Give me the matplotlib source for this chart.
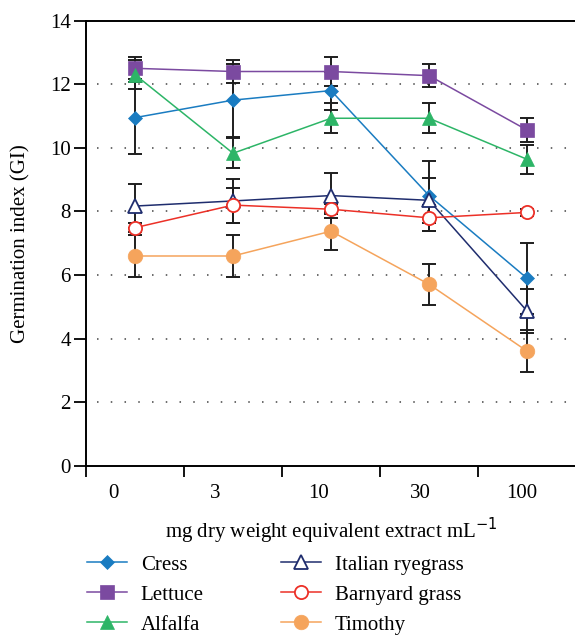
import matplotlib
matplotlib.use("Agg")
import matplotlib.pyplot as plt
from matplotlib.ticker import FixedLocator, NullFormatter

plt.rcParams['font.family'] = ['Liberation Serif', 'DejaVu Serif']

doses = ["0", "3", "10", "30", "100"]

series_names = ["Cress", "Lettuce", "Alfalfa", "Italian ryegrass", "Barnyard grass", "Timothy"]

cress = [10.95, 11.5, 11.8, 8.5, 5.9]
cress_err = [1.13, 1.15, 0.6, 1.1, 1.12]
lettuce = [12.5, 12.4, 12.4, 12.27, 10.56]
lettuce_err = [0.35, 0.35, 0.45, 0.37, 0.38]
alfalfa = [12.3, 9.83, 10.93, 10.93, 9.64]
alfalfa_err = [0.45, 0.47, 0.47, 0.47, 0.45]
ryegrass = [8.17, 8.33, 8.5, 8.35, 4.87]
ryegrass_err = [0.7, 0.68, 0.7, 0.7, 0.7]
barnyard = [7.49, 8.2, 8.07, 7.8, 7.97]
barnyard_err = [0.15, 0.55, 0.15, 0.4, 0.1]
timothy = [6.6, 6.6, 7.38, 5.71, 3.61]
timothy_err = [0.65, 0.65, 0.6, 0.65, 0.65]

values = [cress, lettuce, alfalfa, ryegrass, barnyard, timothy]
errors = [cress_err, lettuce_err, alfalfa_err, ryegrass_err, barnyard_err, timothy_err]

colors = ["#1a7cc1", "#7b4aa0", "#2db567", "#1f2d6e", "#ec3027", "#f5a45c"]
markers = ["D", "s", "^", "^", "o", "o"]
msizes = [7.5, 10, 10.5, 10.5, 9.5, 10.5]
filled = [True, True, True, False, False, True]

fs = 15

fig = plt.figure(figsize=(5.75, 6.38), dpi=100)
ax = fig.add_axes([0.1496, 0.2697, 0.8522, 0.698])

x = list(range(len(doses)))

for v, e in zip(values, errors):
    ax.errorbar(x, v, yerr=e, fmt="none", ecolor="#1e1e1e", elinewidth=1.4,
                capsize=5, capthick=1.4, zorder=2)

handles = []
for name, v, c, m, ms, f in zip(series_names, values, colors, markers, msizes, filled):
    h, = ax.plot(x, v, color=c, lw=1.1, marker=m, markersize=ms,
                 markerfacecolor=c if f else "white",
                 markeredgecolor=c, markeredgewidth=1.3 if not f else 0.5,
                 label=name, zorder=3)
    handles.append(h)

ax.set_xlim(-0.5, 4.5)
ax.set_ylim(0, 14)
ax.set_yticks(range(0, 15, 2))
ax.xaxis.set_major_locator(FixedLocator([-0.5, 0.5, 1.5, 2.5, 3.5]))
ax.xaxis.set_major_formatter(NullFormatter())
ax.set_xticks([-0.22, 0.82, 1.87, 2.91, 3.95], minor=True)
ax.set_xticklabels(doses, minor=True)
ax.tick_params(axis="x", which="minor", length=0, pad=13, labelsize=fs)
ax.tick_params(axis="x", which="major", length=8, width=1.3, direction="out")
ax.tick_params(axis="y", length=9, width=1.3, direction="out", labelsize=fs, pad=2)

for gy in range(2, 14, 2):
    ax.axhline(gy, xmin=0.023, xmax=1, color="#444444", lw=1.1,
               linestyle=(0, (1, 8)), zorder=1)

for s in ["left", "bottom", "top"]:
    ax.spines[s].set_linewidth(1.4)
ax.spines["right"].set_visible(False)

ax.set_ylabel("Germination index (GI)", fontsize=fs, labelpad=14)
ax.set_xlabel("mg dry weight equivalent extract mL$^{-1}$", fontsize=fs, labelpad=9)

fig.legend(handles, series_names,
           ncol=2, loc="upper left", bbox_to_anchor=(0.136, 0.143),
           frameon=False, fontsize=fs, handlelength=1.95, handletextpad=0.65,
           columnspacing=3.7, labelspacing=0.5, borderaxespad=0)

fig.savefig("out.png", dpi=100)
